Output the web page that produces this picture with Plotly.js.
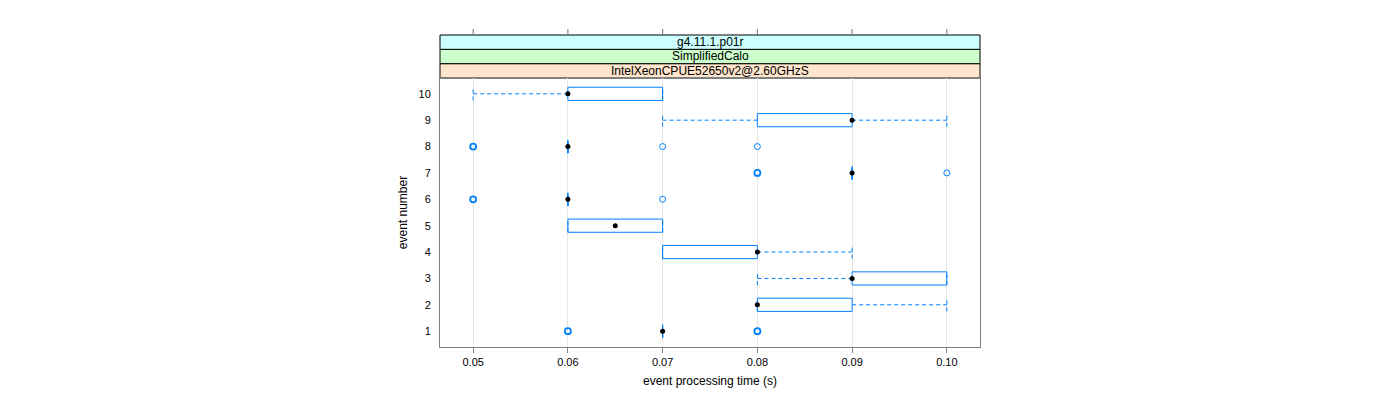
<!DOCTYPE html>
<html>
<head>
<meta charset="utf-8">
<script src="https://cdn.plot.ly/plotly-3.0.1.min.js"></script>
<style>html,body{margin:0;padding:0;background:#fff;}#chart{width:1400px;height:400px;}</style>
</head>
<body>
<div id="chart"></div>
<script>
// ---- data ----
const events      = [1, 2, 3, 4, 5, 6, 7, 8, 9, 10];
const lowWhisker  = [0.07, 0.08, 0.08, 0.07, 0.06, 0.06, 0.09, 0.06, 0.07, 0.05];
const q1          = [0.07, 0.08, 0.09, 0.07, 0.06, 0.06, 0.09, 0.06, 0.08, 0.06];
const medians     = [0.07, 0.08, 0.09, 0.08, 0.065, 0.06, 0.09, 0.06, 0.09, 0.06];
const q3          = [0.07, 0.09, 0.10, 0.08, 0.07, 0.06, 0.09, 0.06, 0.09, 0.07];
const highWhisker = [0.07, 0.10, 0.10, 0.09, 0.07, 0.06, 0.09, 0.06, 0.10, 0.07];
// outliers: event, value, count of coincident observations
const outlierEvent = [1, 1, 6, 6, 7, 7, 8, 8, 8];
const outlierValue = [0.06, 0.08, 0.05, 0.07, 0.08, 0.10, 0.05, 0.07, 0.08];
const outlierCount = [2, 2, 2, 1, 2, 1, 2, 1, 1];
const xTicks = [0.05, 0.06, 0.07, 0.08, 0.09, 0.10];
const stripLabels = ["IntelXeonCPUE52650v2@2.60GHzS", "SimplifiedCalo", "g4.11.1.p01r"];
const stripColors = ["#ffe5cc", "#ccffcc", "#ccffff"];

// ---- styling ----
const BLUE = "#0080ff";
const HALF = 0.25;           // half box height (box.ratio = 1)
const FONT = "Liberation Sans, Arial, sans-serif";
const PLOT_H = 312;          // paper height in px (400 - 35 - 53)
const PANEL_TOP = 269 / PLOT_H; // paper fraction of the panel
const XRANGE = [0.0465, 0.1035];
const TOP_TICK = 6 / PLOT_H; // top tick length above the strips (paper units)

// boxes
const bx = [], by = [];
events.forEach((e, i) => {
  bx.push(q1[i], q3[i], q3[i], q1[i], q1[i], null);
  by.push(e - HALF, e - HALF, e + HALF, e + HALF, e - HALF, null);
});
// whiskers
const wx = [], wy = [];
events.forEach((e, i) => {
  if (lowWhisker[i] < q1[i]) { wx.push(lowWhisker[i], q1[i], null); wy.push(e, e, null); }
  if (highWhisker[i] > q3[i]) { wx.push(q3[i], highWhisker[i], null); wy.push(e, e, null); }
});
// caps
const cx = [], cy = [];
events.forEach((e, i) => {
  [lowWhisker[i], highWhisker[i]].forEach(v => { cx.push(v, v, null); cy.push(e - HALF, e + HALF, null); });
});

const traces = [
  { type: "scatter", mode: "lines", x: wx, y: wy, line: { color: BLUE, width: 1, dash: "4px,3px" }, hoverinfo: "skip", showlegend: false },
  { type: "scatter", mode: "lines", x: cx, y: cy, line: { color: BLUE, width: 1, dash: "4px,3px" }, hoverinfo: "skip", showlegend: false },
  { type: "scatter", mode: "lines", x: bx, y: by, line: { color: BLUE, width: 1 }, hoverinfo: "skip", showlegend: false },
  { type: "scatter", mode: "markers", x: outlierValue, y: outlierEvent,
    marker: { symbol: "circle-open", size: 6, color: BLUE, line: { color: BLUE, width: outlierCount.map(c => c > 1 ? 1.8 : 1) } },
    hoverinfo: "skip", showlegend: false },
  { type: "scatter", mode: "markers", x: medians, y: events,
    marker: { symbol: "circle", size: 5, color: "#000000" }, hoverinfo: "skip", showlegend: false }
];

const stripH = (1 - PANEL_TOP) / 3;
const shapes = [], annotations = [];
stripLabels.forEach((lab, k) => {
  const y0 = PANEL_TOP + k * stripH, y1 = y0 + stripH;
  shapes.push({ type: "rect", xref: "paper", yref: "paper", x0: 0, x1: 1, y0: y0, y1: y1,
    fillcolor: stripColors[k], line: { color: "#000000", width: 1 }, layer: "below" });
  annotations.push({ xref: "paper", yref: "paper", x: 0.5, y: (y0 + y1) / 2, text: lab, showarrow: false,
    xanchor: "center", yanchor: "middle", font: { family: FONT, size: 12, color: "#000" } });
});
// top axis ticks above the strips, placed on the x scale
xTicks.forEach(t => {
  shapes.push({ type: "line", xref: "x", yref: "paper", x0: t, x1: t, y0: 1, y1: 1 + TOP_TICK,
    line: { color: "#707070", width: 1 }, layer: "above" });
});

const layout = {
  width: 1400, height: 400,
  margin: { l: 440, r: 420, t: 35, b: 53 },
  showlegend: false,
  paper_bgcolor: "#ffffff", plot_bgcolor: "rgba(0,0,0,0)",
  font: { family: FONT, size: 11, color: "#000" },
  xaxis: {
    range: XRANGE, tickvals: xTicks, tickformat: ".2f",
    showgrid: true, gridcolor: "#e6e6e6", gridwidth: 1, zeroline: false,
    showline: true, linecolor: "#808080", linewidth: 1, mirror: true,
    ticks: "outside", ticklen: 5, tickcolor: "#808080",
    tickfont: { family: FONT, size: 11, color: "#000" },
    title: { text: "event processing time (s)", font: { family: FONT, size: 12, color: "#000" }, standoff: 9 },
    anchor: "y", fixedrange: true
  },
  yaxis: {
    domain: [0, PANEL_TOP], range: [0.4, 10.6], tickvals: events,
    showgrid: false, zeroline: false,
    showline: true, linecolor: "#808080", linewidth: 1, mirror: true,
    ticks: "", ticklabelstandoff: 6,
    tickfont: { family: FONT, size: 11, color: "#000" },
    title: { text: "event number", font: { family: FONT, size: 12, color: "#000" }, standoff: 8 },
    fixedrange: true
  },
  shapes: shapes,
  annotations: annotations
};

Plotly.newPlot("chart", traces, layout, { displayModeBar: false, staticPlot: true });
</script>
</body>
</html>
